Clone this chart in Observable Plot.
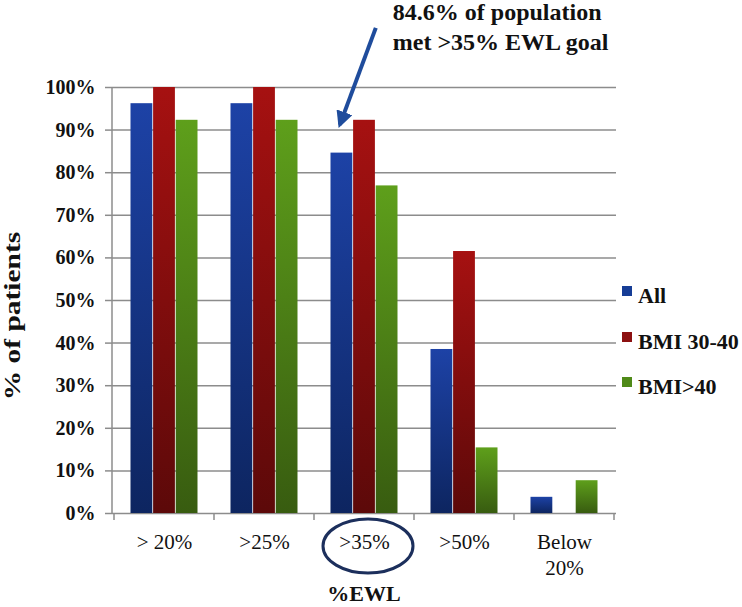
<!DOCTYPE html>
<html><head><meta charset="utf-8">
<script src="https://cdn.jsdelivr.net/npm/d3@7"></script>
<script src="https://cdn.jsdelivr.net/npm/@observablehq/plot@0.6"></script>
<style>
body{margin:0;background:#fff}
#chart svg{display:block}
#chart svg text{font-family:"Liberation Serif","Times New Roman",serif}
g[aria-label="y-axis tick label"]{font-weight:bold}
</style>
</head><body><div id="chart"></div>
<script>
// ---- data ----
const categories = ["> 20%", ">25%", ">35%", ">50%", "Below\n20%"];
const seriesNames = ["All", "BMI 30-40", "BMI>40"];
const allValues = [96.2, 96.2, 84.6, 38.5, 3.8];
const bmi30to40Values = [100, 100, 92.3, 61.5, 0];
const bmiOver40Values = [92.3, 92.3, 76.9, 15.4, 7.7];
const yTicks = [0, 10, 20, 30, 40, 50, 60, 70, 80, 90, 100];
const xTitle = "%EWL";
const yTitle = "% of patients";
const annotationLines = ["84.6% of population", "met >35% EWL goal"];
const highlightCategory = ">35%";
const highlightSeries = "All";

// ---- styles ----
const gradients = [
  ["#1d42a6", "#0d2560"],
  ["#a61111", "#5c0909"],
  ["#5e9f1b", "#385c10"]
];
const legendColors = ["#163d96", "#8c1010", "#4f8a18"];

const seriesValues = [allValues, bmi30to40Values, bmiOver40Values];
const data = seriesNames.flatMap((s, i) =>
  categories.map((c, j) => ({category: c, series: s, value: seriesValues[i][j]})));

const W = 742, H = 607, mL = 112, mR = 126, mT = 87, mB = 94;
const band = (W - mL - mR) / categories.length;
const barW = 22.6, outer = (band - barW * 3) / 2;
const gridColor = "#8c8c8c";
const serif = "Liberation Serif";

const defsMark = () => {
  const defs = d3.create("svg:defs");
  gradients.forEach(([a, b], i) => {
    const g = defs.append("linearGradient").attr("id", "grad" + i)
      .attr("x1", 0).attr("y1", 0).attr("x2", 0).attr("y2", 1);
    g.append("stop").attr("offset", "0%").attr("stop-color", a);
    g.append("stop").attr("offset", "100%").attr("stop-color", b);
  });
  const m = defs.append("marker").attr("id", "arrowhead").attr("viewBox", "0 0 10 10")
    .attr("refX", 8).attr("refY", 5).attr("markerWidth", 4.2).attr("markerHeight", 4.2)
    .attr("markerUnits", "strokeWidth").attr("orient", "auto");
  m.append("path").attr("d", "M0,0L10,5L0,10z").attr("fill", "#1f4c9c");
  return defs.node();
};

const decorMark = (index, scales) => {
  const x = scales.x, y = scales.y;
  const bw = x.bandwidth ? x.bandwidth() : band;
  const g = d3.create("svg:g").attr("text-anchor", "start");
  // y axis line
  g.append("line").attr("x1", mL).attr("x2", mL).attr("y1", y(0)).attr("y2", y(100))
    .attr("stroke", gridColor).attr("stroke-width", 1.5);
  // x axis boundary ticks
  const edges = categories.map(c => x(c)).concat([x(categories[categories.length - 1]) + bw]);
  edges.forEach(ex => g.append("line").attr("x1", ex).attr("x2", ex)
    .attr("y1", y(0)).attr("y2", y(0) + 7).attr("stroke", gridColor).attr("stroke-width", 1.5));
  // ellipse around highlighted category label
  const cx = x(highlightCategory) + bw / 2 + 4;
  g.append("ellipse").attr("cx", cx).attr("cy", y(0) + 33).attr("rx", 45).attr("ry", 27)
    .attr("fill", "none").attr("stroke", "#1c2f5c").attr("stroke-width", 3);
  // arrow pointing at highlighted bar
  const si = seriesNames.indexOf(highlightSeries);
  const hv = seriesValues[si][categories.indexOf(highlightCategory)];
  const tipX = x(highlightCategory) + outer + barW * si + barW / 2 - 2;
  const tipY = y(hv + 6.5);
  g.append("line").attr("x1", tipX + 36).attr("y1", tipY - 97).attr("x2", tipX).attr("y2", tipY)
    .attr("stroke", "#1f4c9c").attr("stroke-width", 4).attr("marker-end", "url(#arrowhead)");
  // annotation text
  const at = g.append("text").attr("font-family", serif).attr("font-weight", "bold")
    .attr("font-size", 24).attr("fill", "#111").attr("text-anchor", "start");
  annotationLines.forEach((t, i) => at.append("tspan").attr("x", tipX + 53).attr("y", 20 + i * 30).text(t));
  // y title
  g.append("text").attr("transform", `translate(20,316) rotate(-90) scale(1.28,1)`)
    .attr("text-anchor", "middle").attr("font-family", serif).attr("font-weight", "bold")
    .attr("font-size", 23).attr("fill", "#111").text(yTitle);
  // x title
  g.append("text").attr("x", (mL + W - mR) / 2).attr("y", 601).attr("text-anchor", "middle")
    .attr("font-family", serif).attr("font-weight", "bold").attr("font-size", 22)
    .attr("fill", "#111").text(xTitle);
  // legend
  const rows = [295, 341, 386];
  seriesNames.forEach((s, i) => {
    g.append("rect").attr("x", W - mR + 6).attr("y", rows[i] - 9).attr("width", 10).attr("height", 10)
      .attr("fill", legendColors[i]);
    g.append("text").attr("x", W - mR + 22).attr("y", rows[i] + 8).attr("text-anchor", "start")
      .attr("font-family", serif).attr("font-weight", "bold").attr("font-size", 22)
      .attr("fill", "#111").text(s);
  });
  return g.node();
};

const chart = Plot.plot({
  width: W, height: H,
  marginLeft: mL, marginRight: mR, marginTop: mT, marginBottom: mB,
  style: {fontFamily: serif, background: "#fff", color: "#111", overflow: "visible"},
  x: {domain: categories, padding: 0},
  y: {domain: [0, 100]},
  marks: [
    defsMark,
    Plot.ruleY(yTicks, {stroke: gridColor, strokeWidth: 1.5}),
    ...seriesNames.map((s, i) => Plot.barY(data.filter(d => d.series === s), {
      x: "category", y: "value", fill: `url(#grad${i})`,
      insetLeft: outer + i * barW, insetRight: band - outer - (i + 1) * barW
    })),
    Plot.axisY({ticks: yTicks, tickFormat: d => d + "%", tickSize: 7, tickPadding: 10,
      fontSize: 20, stroke: gridColor, strokeWidth: 1.5, label: null}),
    Plot.axisX({tickSize: 0, tickPadding: 17, fontSize: 21, lineHeight: 1.24, label: null}),
    decorMark
  ]
});
document.getElementById("chart").appendChild(chart);
</script>
</body></html>
